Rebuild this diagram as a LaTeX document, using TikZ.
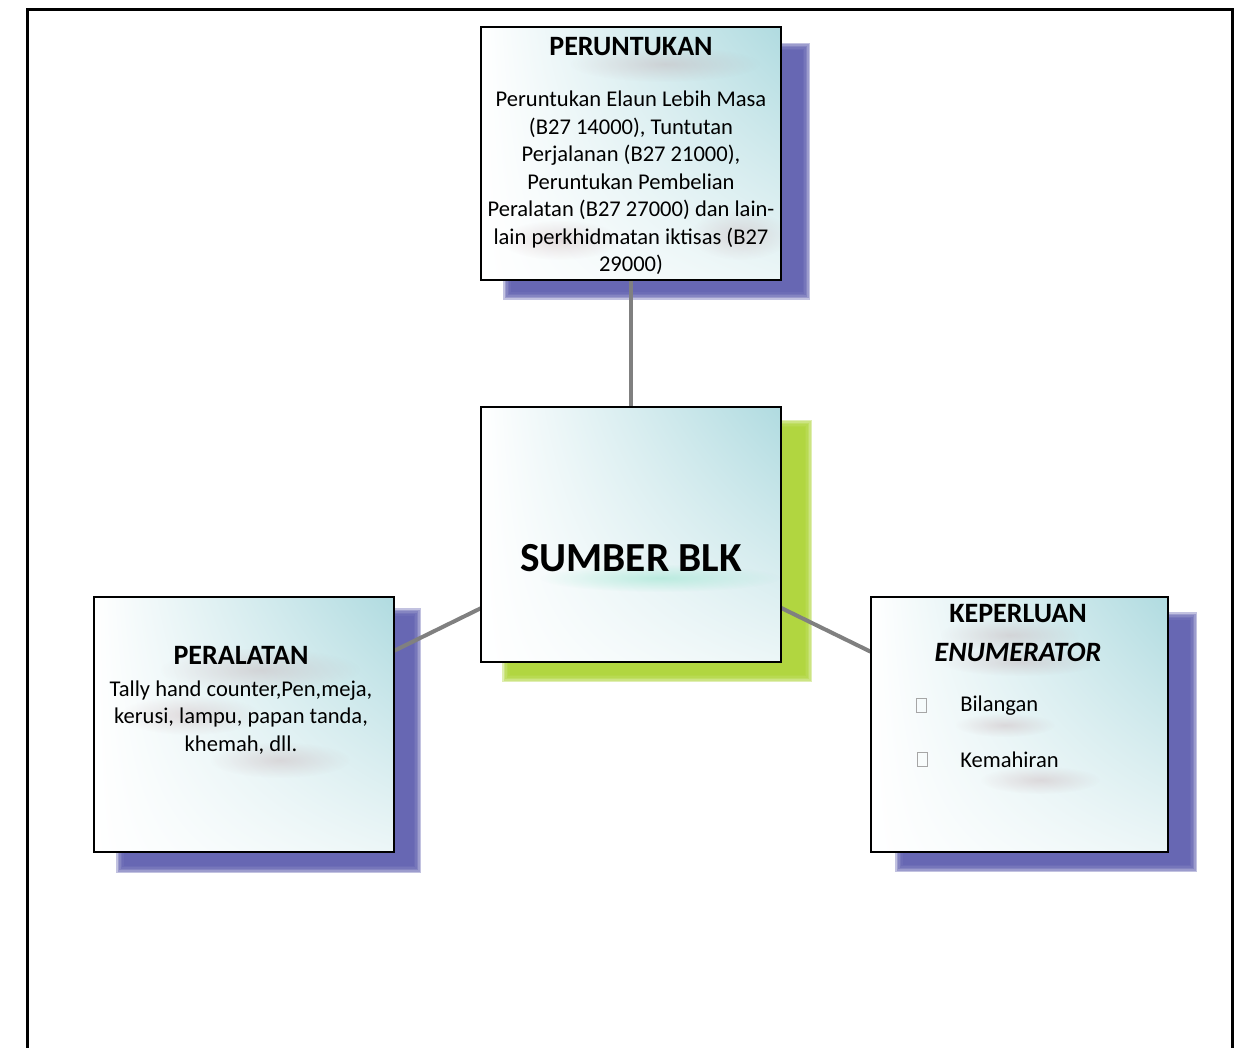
\documentclass[tikz,border=0pt]{standalone}
\usepackage{fontspec}
\setmainfont{Carlito}
\usetikzlibrary{fadings,shadings}
\tikzfading[name=softspot, inner color=transparent!0, outer color=transparent!100]
\definecolor{shblue}{RGB}{94,94,174}
\definecolor{shgreen}{RGB}{172,211,52}
\definecolor{tealtop}{RGB}{176,219,224}
\definecolor{tealbot}{RGB}{236,246,247}
\definecolor{smudge}{RGB}{185,150,155}
\definecolor{mint}{RGB}{150,228,205}
\definecolor{conn}{RGB}{128,128,128}
\begin{document}
\begin{tikzpicture}[x=0.75pt,y=-0.75pt,
  panel/.style={draw=black, line width=1.5pt, rectangle, inner sep=0pt,
    path picture={\shade[upper left=white, lower left=white, upper right=tealtop, lower right=tealbot]
      (path picture bounding box.south west) rectangle (path picture bounding box.north east);}},
  connector/.style={draw=conn, line width=3pt},
  body/.style={align=center, inner sep=0pt, font=\fontsize{16.9}{20.6}\selectfont},
  head/.style={align=center, inner sep=0pt, font=\fontsize{21}{24}\selectfont\bfseries},
  smear/.style={fill=smudge, path fading=softspot, opacity=0.3},
  tickbox/.style={draw=gray!70, line width=0.6pt, minimum width=7.5pt, minimum height=10.5pt, inner sep=0pt}
]
\useasboundingbox (0,0) rectangle (1239,1048);
% outer frame
\draw[line width=2.25pt] (27,1060) -- (27,10) -- (1232,10) -- (1232,1060);

% shadows (blurred)
\foreach \xa/\ya/\xb/\yb/\c in {503/43/810/300/shblue, 502/420/812/682/shgreen, 116/608/421/873/shblue, 895/612/1197/872/shblue}{
  \foreach \d in {0,1.5,...,7.5}
    \fill[\c, opacity=0.38] (\xa+\d,\ya+\d) rectangle (\xb-\d,\yb-\d);
}

% box centres
\coordinate (cTop) at (631,153.5);
\coordinate (cMid) at (631,534.5);
\coordinate (cLeft) at (244,724.5);
\coordinate (cRight) at (1019.5,724.5);

% connectors
\draw[connector] (cTop) -- (cMid);
\draw[connector] (cMid) -- (cLeft);
\draw[connector] (cMid) -- (cRight);

% boxes
\node[panel, minimum width=225pt, minimum height=189.75pt] (top) at (cTop) {};
\node[panel, minimum width=225pt, minimum height=191.25pt] (mid) at (cMid) {};
\node[panel, minimum width=225pt, minimum height=191.25pt] (left) at (cLeft) {};
\node[panel, minimum width=222.75pt, minimum height=191.25pt] (right) at (cRight) {};

% smudges
\begin{scope}
\clip (482,28) rectangle (780,279);
\fill[smear] (665,64) ellipse (95 and 18);
\fill[smear] (560,240) ellipse (60 and 20);
\fill[smear] (740,235) ellipse (50 and 25);
\end{scope}
\begin{scope}
\clip (482,408) rectangle (780,661);
\fill[mint, path fading=softspot, opacity=0.55] (660,578) ellipse (120 and 14);
\end{scope}
\begin{scope}
\clip (95,598) rectangle (393,851);
\fill[smear] (260,670) ellipse (100 and 22);
\fill[smear] (190,715) ellipse (70 and 20);
\fill[smear] (280,760) ellipse (70 and 18);
\end{scope}
\begin{scope}
\clip (872,598) rectangle (1167,851);
\fill[smear] (1010,635) ellipse (70 and 18);
\fill[smear] (1020,662) ellipse (80 and 14);
\fill[smear] (1040,780) ellipse (60 and 14);
\fill[smear] (1005,725) ellipse (50 and 12);
\end{scope}

% texts
\node[head] (tTopH) at (631,47) {PERUNTUKAN};
\node[body] (tTopB) at (631,183) {Peruntukan Elaun Lebih Masa\\(B27 14000), Tuntutan\\Perjalanan (B27 21000),\\Peruntukan Pembelian\\Peralatan (B27 27000) dan lain-\\lain perkhidmatan iktisas (B27\\29000)};

\node[inner sep=0pt, font=\fontsize{31}{36}\selectfont\bfseries] (tMid) at (631,558) {SUMBER BLK};

\node[head] (tLeftH) at (241,655) {PERALATAN};
\node[body] (tLeftB) at (241,717.5) {Tally hand counter,Pen,meja,\\kerusi, lampu, papan tanda,\\khemah, dll.};

\node[head] (tRightH) at (1018,614) {KEPERLUAN};
\node[head] (tRightI) at (1018,652) {\itshape ENUMERATOR};
\node[tickbox] (bx1) at (921,705) {};
\node[tickbox] (bx2) at (922,759) {};
\node[body, anchor=west] (tBil) at (960,706) {Bilangan};
\node[body, anchor=west] (tKem) at (960,760) {Kemahiran};
\end{tikzpicture}
\end{document}
